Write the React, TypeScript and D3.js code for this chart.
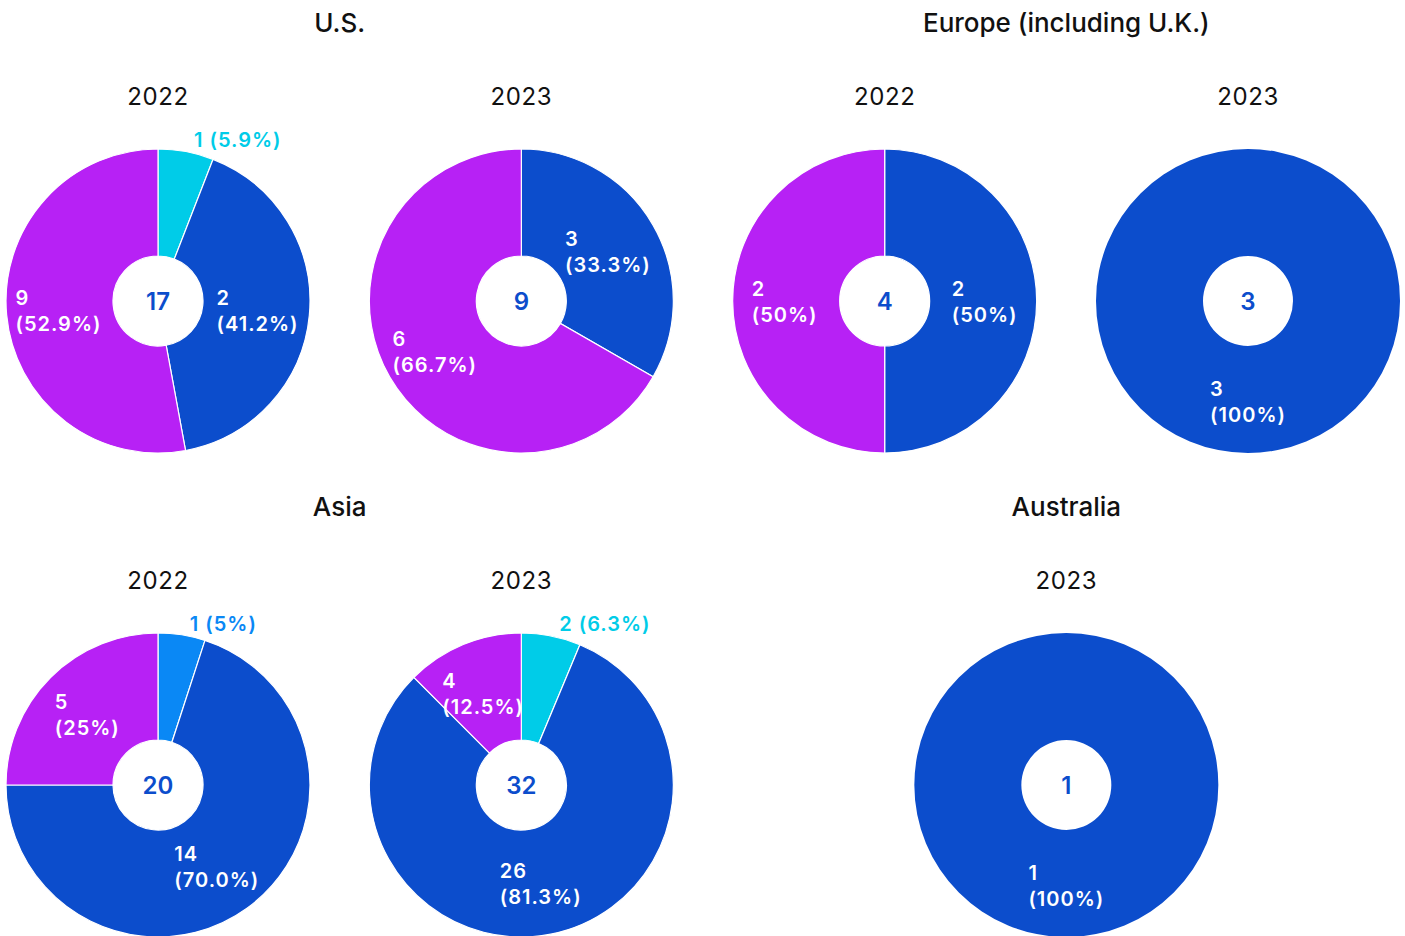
import React, { useEffect, useRef } from "react";
import * as d3 from "d3";

// region headings and the pies under them
const regions = ["U.S.", "Europe (including U.K.)", "Asia", "Australia"];
const pieRegion = [0, 0, 1, 1, 2, 2, 3];
const pieYear = ["2022", "2023", "2022", "2023", "2022", "2023", "2023"];
const pieTotal = [17, 9, 4, 3, 20, 32, 1];

// slices, clockwise from 12 o'clock
const sliceKinds = [
  ["cyan", "blue", "purple"],
  ["blue", "purple"],
  ["blue", "purple"],
  ["blue"],
  ["sky", "blue", "purple"],
  ["cyan", "blue", "purple"],
  ["blue"],
];
const sliceCounts = [[1, 2, 9], [3, 6], [2, 2], [3], [1, 14, 5], [2, 26, 4], [1]];
const sliceShares = [
  [5.9, 41.2, 52.9],
  [33.3, 66.7],
  [50, 50],
  [100],
  [5, 70.0, 25],
  [6.3, 81.3, 12.5],
  [100],
];
const sliceShareText = [
  ["5.9%", "41.2%", "52.9%"],
  ["33.3%", "66.7%"],
  ["50%", "50%"],
  ["100%"],
  ["5%", "70.0%", "25%"],
  ["6.3%", "81.3%", "12.5%"],
  ["100%"],
];

const colors = {
  blue: "#0c4dcc",
  purple: "#b721f5",
  cyan: "#00cce8",
  sky: "#0a88f5",
};

const FONT = "Inter, 'Noto Sans', sans-serif";

export default function App() {
  const svgRef = useRef(null);
  const width = 1405;
  const height = 936;

  useEffect(() => {
    const svg = d3.select(svgRef.current);
    svg.selectAll("*").remove();

    const outer = 152;
    const inner = 45;

    // 4 evenly spaced slots across, 2 rows
    const xSlot = d3.scaleLinear().domain([0, 3]).range([158, 1248]);
    const yRow = d3.scaleLinear().domain([0, 1]).range([301, 785]);

    // slot per pie (Australia sits centred under its heading)
    const regionSlot = [0.5, 2.5, 0.5, 2.5];
    const pieSlot = pieRegion.map((r, i) => {
      const same = pieRegion.filter((q) => q === r).length;
      if (same === 1) return regionSlot[r];
      const first = pieRegion.indexOf(r);
      return regionSlot[r] - 0.5 + (i - first);
    });

    // region headings
    regions.forEach((name, r) => {
      svg
        .append("text")
        .attr("x", xSlot(regionSlot[r]))
        .attr("y", yRow(r < 2 ? 0 : 1) - 279)
        .attr("text-anchor", "middle")
        .attr("dominant-baseline", "central")
        .style("font-family", FONT)
        .style("font-size", "26px")
        .style("font-weight", 500)
        .style("fill", "#111")
        .text(name);
    });

    const pie = d3
      .pie()
      .value((d) => d.share)
      .sort(null);
    const arc = d3.arc().innerRadius(inner).outerRadius(outer);
    const labelArc = d3.arc().innerRadius(100).outerRadius(100);

    pieYear.forEach((year, p) => {
      const cx = xSlot(pieSlot[p]);
      const cy = yRow(pieRegion[p] < 2 ? 0 : 1);
      const g = svg.append("g").attr("transform", `translate(${cx},${cy})`);

      svg
        .append("text")
        .attr("x", cx)
        .attr("y", cy - 205)
        .attr("text-anchor", "middle")
        .attr("dominant-baseline", "central")
        .style("font-family", FONT)
        .style("font-size", "24px")
        .style("letter-spacing", "0.6px")
        .style("fill", "#111")
        .text(year);

      const slices = sliceKinds[p].map((kind, i) => ({
        kind,
        count: sliceCounts[p][i],
        share: sliceShares[p][i],
        text: sliceShareText[p][i],
      }));
      const arcs = pie(slices);

      g.selectAll("path")
        .data(arcs)
        .enter()
        .append("path")
        .attr("d", arc)
        .attr("fill", (d) => colors[d.data.kind])
        .attr("stroke", (d) => (d.data.share >= 100 ? "none" : "#fff"))
        .attr("stroke-width", 1.2);

      // centre total
      g.append("text")
        .attr("text-anchor", "middle")
        .attr("dominant-baseline", "central")
        .style("font-family", FONT)
        .style("font-size", "24px")
        .style("font-weight", 600)
        .style("fill", colors.blue)
        .text(pieTotal[p]);

      arcs.forEach((d) => {
        if (d.data.share < 10) {
          // thin slice: one line label above the ring
          const mid = (d.startAngle + d.endAngle) / 2;
          g.append("text")
            .attr("x", Math.sin(mid) * outer + 8)
            .attr("y", -outer - 9)
            .attr("dominant-baseline", "central")
            .style("font-family", FONT)
            .style("font-size", "20px")
            .style("font-weight", 600)
            .style("letter-spacing", "1px")
            .style("fill", colors[d.data.kind])
            .text(`${d.data.count} (${d.data.text})`);
          return;
        }
        const [lx, ly] = labelArc.centroid(d);
        const t = g
          .append("text")
          .attr("y", ly)
          .style("font-family", FONT)
          .style("font-size", "20px")
          .style("font-weight", 600)
          .style("letter-spacing", "1px")
          .style("fill", "#fff");
        const l1 = t.append("tspan").attr("dy", "-0.25em").text(d.data.count);
        const l2 = t.append("tspan").attr("dy", "1.3em").text(`(${d.data.text})`);
        const w = Math.max(
          l1.node().getComputedTextLength(),
          l2.node().getComputedTextLength()
        );
        l1.attr("x", lx - w / 2);
        l2.attr("x", lx - w / 2);
      });
    });
  }, []);

  return (
    <svg
      ref={svgRef}
      width={width}
      height={height}
      style={{ position: "absolute", left: 0, top: 0, background: "#fff" }}
    ></svg>
  );
}
